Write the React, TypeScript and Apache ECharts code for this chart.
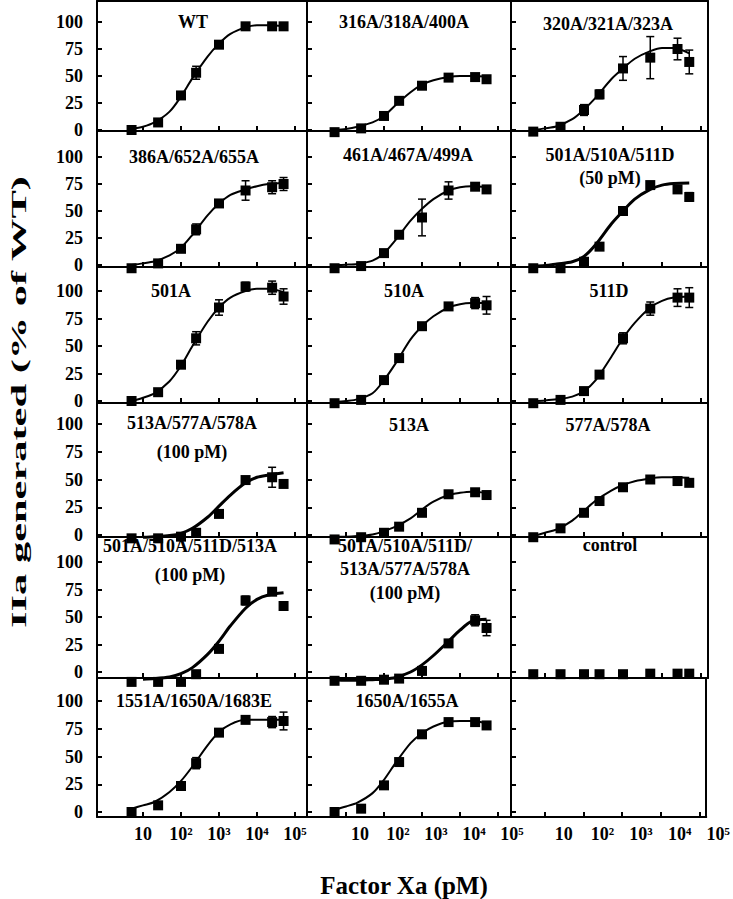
import React, { useEffect, useRef } from 'react';
import * as echarts from 'echarts';

// ---------------- data ----------------
const concentrations = [5, 25, 100, 250, 1000, 5000, 25000, 50000];
const curveX = [5, 10, 20, 50, 100, 200, 500, 1000, 2000, 5000, 10000, 20000, 50000];
const curveXLate = [10, 20, 50, 100, 200, 500, 1000, 2000, 5000, 10000, 20000, 50000];
const yTickValues = [0, 25, 50, 75, 100];
const xTickExponents = [1, 2, 3, 4, 5];

const wtValues = [0, 7, 32, 53, 79, 96, 96, 96];
const wtErrors = [0, 0, 0, 6, 3, 0, 0, 0];
const wtCurve = [1, 3, 7, 17, 31, 48, 68, 80, 89, 95, 97, 97, 96];

const m316Values = [-2, 1.5, 13, 27, 41, 48.5, 49, 47];
const m316Errors = [0, 0, 0, 0, 0, 0, 0, 0];
const m316Curve = [0, 1, 3, 7, 13, 23, 35, 42, 46, 49, 50, 50, 49.5];

const m320Values = [-1.5, 3, 18.5, 33, 57, 67, 75, 63];
const m320Errors = [0, 0, 5, 4, 11, 19.5, 10, 11];
const m320Curve = [0, 1.5, 3.5, 10, 19, 30, 47, 57, 66, 73, 76, 76, 71];

const m386Values = [-3, 1.5, 15, 33, 57, 69, 72, 75];
const m386Errors = [0, 0, 0, 5, 0, 9, 6, 6];
const m386Curve = [0, 1.5, 3.5, 9, 16, 28, 46, 57, 65, 70, 73, 75, 76];

const m461Values = [-3, -1, 11, 28, 44, 69, 72.5, 70];
const m461Errors = [0, 0, 0, 3, 17, 8, 0, 0];
const m461Curve = [0, 0.3, 1, 4, 11, 23, 41, 52, 61, 69, 72, 73, 72];

const m501TripleValues = [-3, -3, 3, 17, 50, 74, 70, 63];
const m501TripleErrors = [0, 0, 0, 0, 0, 0, 0, 4];
const m501TripleCurve = [-1, -0.5, 1, 3, 8, 19, 38, 50, 61, 70, 74, 75.5, 76];

const m501Values = [0, 8, 33, 57, 85, 104, 103, 95];
const m501Errors = [0, 0, 0, 6, 7, 4, 6, 7];
const m501Curve = [0, 3, 7, 18, 32, 50, 72, 85, 94, 100, 102, 102, 99];

const m510Values = [-2, 1, 19, 39, 68, 86, 89, 87];
const m510Errors = [0, 0, 0, 0, 0, 0, 5, 8];
const m510Curve = [-1, 0, 1.5, 7, 19, 34, 56, 68, 77, 85, 88, 89, 89];

const m511Values = [-2, 1, 9, 24, 57, 84, 94, 94];
const m511Errors = [0, 0, 0, 0, 5, 6, 8, 9];
const m511Curve = [0, 0.5, 1.5, 4, 9, 19, 40, 57, 71, 85, 91, 94, 95];

const m513TripleValues = [-3, -3, -1.5, 2, 19, 49.5, 52, 46];
const m513TripleErrors = [0, 0, 0, 0, 0, 0, 9, 0];
const m513TripleCurve = [-2, -1.5, -0.5, 1.5, 6, 16, 26, 36, 47, 52, 54, 56];

const m513Values = [-4, -2, 2, 7.5, 20, 36.7, 38.5, 36];
const m513Errors = [0, 0, 0, 0, 0, 0, 0, 0];
const m513Curve = [-1.5, -1.5, -1, 0.5, 3.5, 7.5, 15, 23, 30, 36, 38, 39, 38];

const m577Values = [-2, 6, 20, 30.6, 43, 50, 48.6, 47];
const m577Errors = [0, 0, 0, 0, 0, 0, 0, 0];
const m577Curve = [-1, 2, 5, 13, 22, 31, 40, 45, 48.5, 51, 52, 52, 51.5];

const mQuadValues = [-9, -9, -9, -2, 21, 65, 73, 60];
const mQuadErrors = [0, 0, 0, 0, 0, 4, 0, 0];
const mQuadCurve = [-6.5, -6, -4.5, -1.5, 4, 16, 28, 42, 58, 66, 70, 72];

const mHexValues = [-8, -8, -7, -6, 1, 26, 47, 40];
const mHexErrors = [0, 0, 0, 0, 0, 0, 5, 7];
const mHexCurve = [-7, -7.5, -7.5, -7, -6.5, -5, 0, 6.5, 15, 28, 38, 46, 48];

const controlValues = [-2, -2, -2, -2, -2, -1.5, -1.5, -1.5];
const controlErrors = [0, 0, 0, 0, 0, 0, 0, 0];

const m1551Values = [0, 6, 23.4, 44, 71.5, 83, 81, 82];
const m1551Errors = [0, 0, 3, 5, 0, 0, 5, 8];
const m1551Curve = [3, 6, 9, 18, 28, 41, 60, 72, 79, 83, 83, 83, 83];

const m1650Values = [0, 3, 24, 45, 70, 81, 81, 78];
const m1650Errors = [0, 0, 0, 0, 0, 0, 0, 0];
const m1650Curve = [2, 5, 8.5, 17, 29, 44, 62, 71, 77, 81.5, 82, 82, 80];

type Panel = {
  title: string[];
  values?: number[];
  errors?: number[];
  curve?: number[];
  curveX?: number[];
};

const panels: Panel[] = [
  { title: ['WT'], values: wtValues, errors: wtErrors, curve: wtCurve, curveX },
  { title: ['316A/318A/400A'], values: m316Values, errors: m316Errors, curve: m316Curve, curveX },
  { title: ['320A/321A/323A'], values: m320Values, errors: m320Errors, curve: m320Curve, curveX },
  { title: ['386A/652A/655A'], values: m386Values, errors: m386Errors, curve: m386Curve, curveX },
  { title: ['461A/467A/499A'], values: m461Values, errors: m461Errors, curve: m461Curve, curveX },
  { title: ['501A/510A/511D', '(50 pM)'], values: m501TripleValues, errors: m501TripleErrors, curve: m501TripleCurve, curveX },
  { title: ['501A'], values: m501Values, errors: m501Errors, curve: m501Curve, curveX },
  { title: ['510A'], values: m510Values, errors: m510Errors, curve: m510Curve, curveX },
  { title: ['511D'], values: m511Values, errors: m511Errors, curve: m511Curve, curveX },
  { title: ['513A/577A/578A', '(100 pM)'], values: m513TripleValues, errors: m513TripleErrors, curve: m513TripleCurve, curveX: curveXLate },
  { title: ['513A'], values: m513Values, errors: m513Errors, curve: m513Curve, curveX },
  { title: ['577A/578A'], values: m577Values, errors: m577Errors, curve: m577Curve, curveX },
  { title: ['501A/510A/511D/513A', '(100 pM)'], values: mQuadValues, errors: mQuadErrors, curve: mQuadCurve, curveX: curveXLate },
  { title: ['501A/510A/511D/', '513A/577A/578A', '(100 pM)'], values: mHexValues, errors: mHexErrors, curve: mHexCurve, curveX },
  { title: ['control'], values: controlValues, errors: controlErrors },
  { title: ['1551A/1650A/1683E'], values: m1551Values, errors: m1551Errors, curve: m1551Curve, curveX },
  { title: ['1650A/1655A'], values: m1650Values, errors: m1650Errors, curve: m1650Curve, curveX },
  { title: [] },
];

const xAxisTitle = 'Factor Xa (pM)';
const yAxisTitle = 'IIa generated (% of WT)';

// ---------------- layout ----------------
const FONT = "'Liberation Serif', 'Times New Roman', Times, serif";
const COLS = [
  { left: 97, right: 307, onePx: 105, decade: 38, labelPad: 0 },
  { left: 307, right: 511, onePx: 308, decade: 38, labelPad: 28 },
  { left: 511, right: 708, onePx: 506, decade: 39, labelPad: 38 },
];
const ROWS = [
  { top: 1, bottom: 131, zeroPx: 130, hundredPx: 22 },
  { top: 131, bottom: 267, zeroPx: 265, hundredPx: 157 },
  { top: 267, bottom: 403, zeroPx: 401, hundredPx: 291 },
  { top: 403, bottom: 537, zeroPx: 535, hundredPx: 424 },
  { top: 537, bottom: 678, zeroPx: 672, hundredPx: 562 },
  { top: 678, bottom: 817, zeroPx: 812, hundredPx: 701 },
];
const titleLayout: { x: number; y: number[] }[] = [
  { x: 193, y: [22] }, { x: 404, y: [22] }, { x: 608, y: [24] },
  { x: 194, y: [157] }, { x: 408, y: [155] }, { x: 610, y: [155, 178] },
  { x: 171, y: [291] }, { x: 404, y: [291] }, { x: 609, y: [291] },
  { x: 192, y: [423, 452] }, { x: 409, y: [425] }, { x: 608, y: [425] },
  { x: 190, y: [546, 575] }, { x: 405, y: [546, 569, 593] }, { x: 610, y: [545] },
  { x: 194, y: [701] }, { x: 407, y: [701] }, { x: 600, y: [] },
];
const thickCurve = [5, 9, 12, 13];
const SUP: Record<number, string> = { 2: '²', 3: '³', 4: '⁴', 5: '⁵' };

function buildOption() {
  const grid: any[] = [];
  const xAxis: any[] = [];
  const yAxis: any[] = [];
  const series: any[] = [];
  const graphic: any[] = [];
  const lineStyle = { color: '#000', width: 2 };

  panels.forEach((p, i) => {
    const row = Math.floor(i / 3);
    const col = i % 3;
    const C = COLS[col];
    const R = ROWS[row];
    grid.push({ left: C.left, top: R.top, width: C.right - C.left, height: R.bottom - R.top });
    const scale = (R.zeroPx - R.hundredPx) / 100;
    const yMin = -(R.bottom - R.zeroPx) / scale;
    const yMax = (R.zeroPx - R.top) / scale;
    const expMin = (C.left - C.onePx) / C.decade;
    const expMax = (C.right - C.onePx) / C.decade;

    const dataX = xAxis.length;
    xAxis.push({
      type: 'log', logBase: 10, gridIndex: i, show: false,
      min: Math.pow(10, expMin), max: Math.pow(10, expMax),
    });
    xAxis.push({
      type: 'value', gridIndex: i, position: 'bottom', min: expMin, max: expMax,
      axisLine: { show: true, onZero: false, lineStyle },
      axisTick: { show: true, inside: true, length: 5, customValues: xTickExponents, lineStyle },
      axisLabel: {
        show: row === 5, customValues: xTickExponents, color: '#000', fontFamily: FONT,
        fontWeight: 'bold', fontSize: 18, margin: 8, padding: [0, 0, 0, C.labelPad],
        formatter: (v: number) => (Math.round(v) === 1 ? '10' : '10' + (SUP[Math.round(v)] || '')),
      },
      splitLine: { show: false },
    });
    if (row === 0) {
      xAxis.push({
        type: 'value', gridIndex: i, position: 'top', min: 0, max: 1,
        axisLine: { show: true, onZero: false, lineStyle }, axisTick: { show: false },
        axisLabel: { show: false }, splitLine: { show: false },
      });
    }
    const dataY = yAxis.length;
    yAxis.push({
      type: 'value', gridIndex: i, position: 'left', min: yMin, max: yMax,
      axisLine: { show: true, onZero: false, lineStyle },
      axisTick: { show: true, inside: true, length: 5, customValues: yTickValues, lineStyle },
      axisLabel: {
        show: col === 0, customValues: yTickValues, color: '#000', fontFamily: FONT,
        fontWeight: 'bold', fontSize: 18, margin: 14,
      },
      splitLine: { show: false },
    });
    if (col === 2) {
      yAxis.push({
        type: 'value', gridIndex: i, position: 'right', min: 0, max: 1,
        axisLine: { show: true, onZero: false, lineStyle }, axisTick: { show: false },
        axisLabel: { show: false }, splitLine: { show: false },
      });
    }

    if (p.curve && p.curveX) {
      series.push({
        type: 'line', xAxisIndex: dataX, yAxisIndex: dataY,
        data: p.curveX.map((x, k) => [x, p.curve![k]]),
        smooth: 0.3, symbol: 'none', clip: false,
        lineStyle: { color: '#000', width: thickCurve.includes(i) ? 3 : 2 }, z: 2,
      });
    }
    if (p.values) {
      series.push({
        type: 'scatter', xAxisIndex: dataX, yAxisIndex: dataY,
        data: concentrations.map((x, k) => [x, p.values![k]]),
        symbol: 'rect', symbolSize: 10, clip: false,
        itemStyle: { color: '#000', opacity: 1 }, z: 4,
      });
      const errData = concentrations
        .map((x, k) => [x, p.values![k], p.errors ? p.errors[k] : 0])
        .filter((d) => d[2] > 0);
      if (errData.length) {
        series.push({
          type: 'custom', xAxisIndex: dataX, yAxisIndex: dataY, data: errData, clip: false, z: 3,
          encode: { x: 0, y: 1 },
          renderItem: (_params: any, api: any) => {
            const x = api.value(0);
            const y = api.value(1);
            const e = api.value(2);
            const a = api.coord([x, y + e]);
            const b = api.coord([x, y - e]);
            const st = { stroke: '#000', lineWidth: 1.5 };
            return {
              type: 'group',
              children: [
                { type: 'line', shape: { x1: a[0], y1: a[1], x2: b[0], y2: b[1] }, style: st },
                { type: 'line', shape: { x1: a[0] - 4, y1: a[1], x2: a[0] + 4, y2: a[1] }, style: st },
                { type: 'line', shape: { x1: b[0] - 4, y1: b[1], x2: b[0] + 4, y2: b[1] }, style: st },
              ],
            };
          },
        });
      }
    }
    const tl = titleLayout[i];
    p.title.forEach((t, k) => {
      graphic.push({
        type: 'text', x: tl.x, y: tl.y[k], z: 10,
        style: {
          text: t, fill: '#000', fontFamily: FONT, fontWeight: 'bold', fontSize: 18,
          align: 'center', verticalAlign: 'middle',
        },
      });
    });
  });

  graphic.push({
    type: 'text', x: 404, y: 885,
    style: { text: xAxisTitle, fill: '#000', fontFamily: FONT, fontWeight: 'bold', fontSize: 25, align: 'center', verticalAlign: 'middle' },
  });
  graphic.push({
    type: 'text', x: 19, y: 402, rotation: Math.PI / 2, scaleX: 1.93,
    style: { text: yAxisTitle, fill: '#000', fontFamily: FONT, fontWeight: 'bold', fontSize: 22, align: 'center', verticalAlign: 'middle' },
  });

  return { animation: false, backgroundColor: '#fff', grid, xAxis, yAxis, series, graphic };
}

export default function App() {
  const ref = useRef<HTMLDivElement>(null);
  useEffect(() => {
    const chart = echarts.init(ref.current!, null, { renderer: 'svg' });
    chart.setOption(buildOption() as any);
    return () => chart.dispose();
  }, []);
  return (
    <div
      ref={ref}
      style={{ position: 'fixed', left: 0, top: 0, width: 733, height: 899, background: '#fff' }}
    />
  );
}
